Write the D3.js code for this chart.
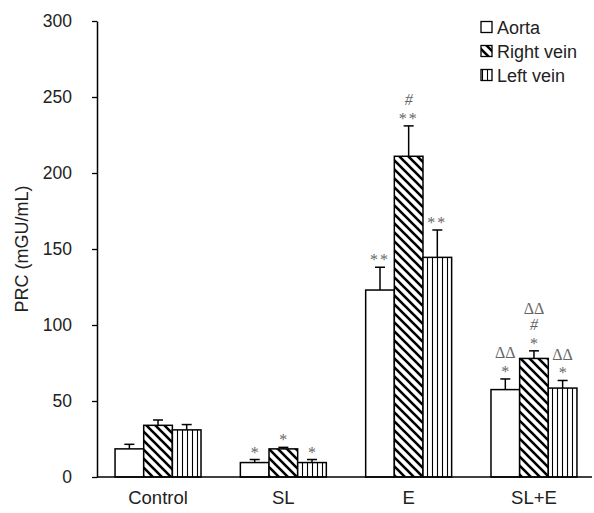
<!DOCTYPE html>
<html><head><meta charset="utf-8">
<script src="https://cdn.jsdelivr.net/npm/d3@7"></script>
<style>body{margin:0;background:#fff}svg{display:block}</style>
</head><body>
<svg id="c" width="594" height="513"></svg>
<script>
const categories = ["Control", "SL", "E", "SL+E"];
const seriesNames = ["Aorta", "Right vein", "Left vein"];
const aortaValues = [18.5, 9.5, 123, 57.5];
const rightVeinValues = [34, 18.5, 211, 78];
const leftVeinValues = [31, 9.5, 144.5, 58.5];
const aortaErrors = [3, 2, 15, 7];
const rightVeinErrors = [3.5, 1, 20, 5];
const leftVeinErrors = [3.5, 2, 18, 5];
// significance marks, stacked from bottom to top
const aortaMarks = [[], ["*"], ["**"], ["*", "ΔΔ"]];
const rightVeinMarks = [[], ["*"], ["**", "#"], ["*", "#", "ΔΔ"]];
const leftVeinMarks = [[], ["*"], ["**"], ["*", "ΔΔ"]];
const yTicks = [0, 50, 100, 150, 200, 250, 300];
const yLabel = "PRC (mGU/mL)";

const values = [aortaValues, rightVeinValues, leftVeinValues];
const errors = [aortaErrors, rightVeinErrors, leftVeinErrors];
const marks = [aortaMarks, rightVeinMarks, leftVeinMarks];
const fills = ["#fff", "url(#diag)", "url(#vert)"];
const sans = "Liberation Sans, Arial, sans-serif";

const svg = d3.select("#c");
const defs = svg.append("defs");
const pd = defs.append("pattern").attr("id", "diag").attr("patternUnits", "userSpaceOnUse")
  .attr("width", 9).attr("height", 9);
pd.append("rect").attr("width", 9).attr("height", 9).attr("fill", "#fff");
pd.append("path").attr("d", "M-1,-1L10,10M-5.5,3.5L5.5,14.5M3.5,-5.5L14.5,5.5")
  .attr("stroke", "#000").attr("stroke-width", 2.6);
const pv = defs.append("pattern").attr("id", "vert").attr("patternUnits", "userSpaceOnUse")
  .attr("width", 5).attr("height", 5);
pv.append("rect").attr("width", 5).attr("height", 5).attr("fill", "#fff");
pv.append("line").attr("x1", 2.5).attr("x2", 2.5).attr("y1", 0).attr("y2", 5)
  .attr("stroke", "#000").attr("stroke-width", 1.1);

const x0 = d3.scaleBand().domain(categories).range([97, 595]).paddingInner(0.314).paddingOuter(0.144);
const x1 = d3.scaleBand().domain(seriesNames).range([0, x0.bandwidth()]);
const y = d3.scaleLinear().domain([0, 300]).range([477, 21]);

// y axis
const yAxis = svg.append("g").attr("transform", "translate(97,0)")
  .call(d3.axisLeft(y).tickValues(yTicks).tickSize(5).tickPadding(20).tickSizeOuter(0));
yAxis.select(".domain").attr("stroke", "#000").attr("stroke-width", 1.5);
yAxis.selectAll(".tick line").attr("stroke", "#000").attr("stroke-width", 1.3);
yAxis.selectAll(".tick text").attr("font-family", sans)
  .attr("font-size", 17.5).attr("fill", "#222");

svg.append("text").attr("transform", `translate(28,${(y(0) + y(300)) / 2}) rotate(-90)`)
  .attr("text-anchor", "middle").attr("font-family", sans)
  .attr("font-size", 18).attr("fill", "#222").text(yLabel);

// bars
seriesNames.forEach((s, si) => {
  const g = svg.append("g");
  categories.forEach((c, ci) => {
    const v = values[si][ci], e = errors[si][ci];
    const bx = x0(c) + x1(s), bw = x1.bandwidth(), cx = bx + bw / 2;
    g.append("rect").attr("x", bx).attr("y", y(v)).attr("width", bw).attr("height", y(0) - y(v))
      .attr("fill", fills[si]).attr("stroke", "#000").attr("stroke-width", 1.5);
    g.append("line").attr("x1", cx).attr("x2", cx).attr("y1", y(v)).attr("y2", y(v + e))
      .attr("stroke", "#000").attr("stroke-width", 1.5);
    g.append("line").attr("x1", cx - 5).attr("x2", cx + 5).attr("y1", y(v + e)).attr("y2", y(v + e))
      .attr("stroke", "#000").attr("stroke-width", 1.5);
    let center = y(v + e) - 10;
    marks[si][ci].forEach((m) => {
      const off = m.includes("*") ? 8 : 5.5;
      svg.append("text").attr("x", cx).attr("y", center + off).attr("text-anchor", "middle")
        .attr("font-family", "Liberation Serif, Times New Roman, serif").attr("font-size", 16)
        .attr("letter-spacing", m === "**" ? 2 : 0)
        .attr("font-style", m === "#" ? "italic" : "normal")
        .attr("fill", "#666").text(m);
      center -= 16;
    });
  });
});

// x axis
svg.append("line").attr("x1", 97).attr("x2", 592).attr("y1", y(0)).attr("y2", y(0))
  .attr("stroke", "#000").attr("stroke-width", 1.5);
svg.append("g").selectAll("text").data(categories).join("text")
  .attr("x", d => x0(d) + x0.bandwidth() / 2).attr("y", 504).attr("text-anchor", "middle")
  .attr("font-family", sans).attr("font-size", 18.5).attr("fill", "#222")
  .text(d => d);

// legend
const lg = svg.append("g");
seriesNames.forEach((s, si) => {
  const ly = 27 + si * 24;
  lg.append("rect").attr("x", 481).attr("y", ly - 5.5).attr("width", 11).attr("height", 11)
    .attr("fill", fills[si]).attr("stroke", "#000").attr("stroke-width", 1.3);
  lg.append("text").attr("x", 497).attr("y", ly + 6.5).attr("font-family", sans)
    .attr("font-size", 18).attr("fill", "#222").text(s);
});
</script>
</body></html>
